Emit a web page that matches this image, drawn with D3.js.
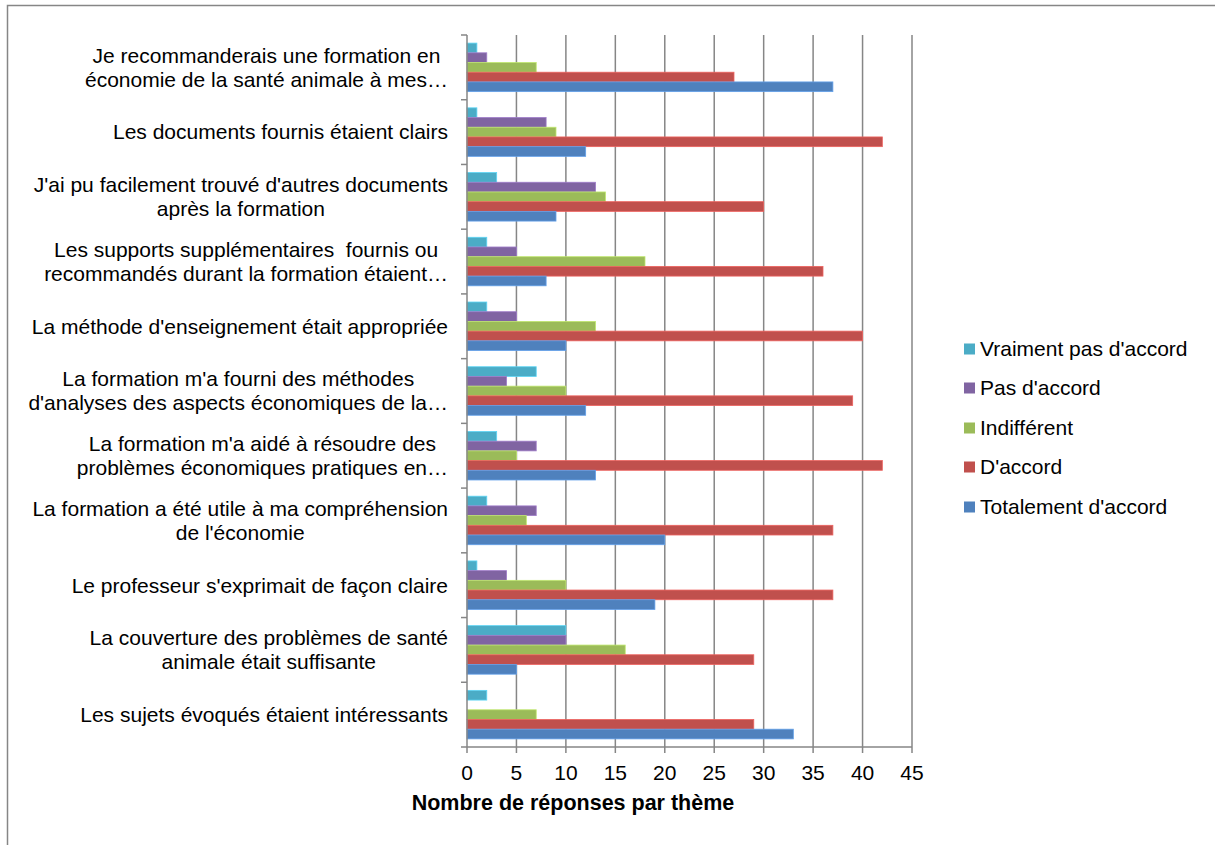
<!DOCTYPE html>
<html>
<head>
<meta charset="utf-8">
<script src="https://cdn.jsdelivr.net/npm/d3@7"></script>
<style>
  body { margin: 0; background: #fff; }
  text { font-family: "Liberation Sans", Arial, sans-serif; fill: #000; }
</style>
</head>
<body>
<div id="chart"></div>
<script>
// categories, top to bottom (each entry = lines of the label)
var categories = [
    ["Je recommanderais une formation en", "économie de la santé animale à mes…"],
    ["Les documents fournis étaient clairs"],
    ["J'ai pu facilement trouvé d'autres documents", "après la formation"],
    ["Les supports supplémentaires  fournis ou", "recommandés durant la formation étaient…"],
    ["La méthode d'enseignement était appropriée"],
    ["La formation m'a fourni des méthodes", "d'analyses des aspects économiques de la…"],
    ["La formation m'a aidé à résoudre des", "problèmes économiques pratiques en…"],
    ["La formation a été utile à ma compréhension", "de l'économie"],
    ["Le professeur s'exprimait de façon claire"],
    ["La couverture des problèmes de santé", "animale était suffisante"],
    ["Les sujets évoqués étaient intéressants"]
];

var seriesNames = ["Vraiment pas d'accord", "Pas d'accord", "Indifférent", "D'accord", "Totalement d'accord"];
var seriesColors = ["#4BACC6", "#8064A2", "#9BBB59", "#C0504D", "#4F81BD"];

// values per series, same order as categories
var vraimentPas = [1, 1, 3, 2, 2, 7, 3, 2, 1, 10, 2];
var pasDaccord  = [2, 8, 13, 5, 5, 4, 7, 7, 4, 10, 0];
var indifferent = [7, 9, 14, 18, 13, 10, 5, 6, 10, 16, 7];
var daccord     = [27, 42, 30, 36, 40, 39, 42, 37, 37, 29, 29];
var totalement  = [37, 12, 9, 8, 10, 12, 13, 20, 19, 5, 33];
var seriesValues = [vraimentPas, pasDaccord, indifferent, daccord, totalement];

var xTicks = [0, 5, 10, 15, 20, 25, 30, 35, 40, 45];

var width = 1215, height = 845;
var fontSize = 21;

var svg = d3.select("#chart").append("svg")
    .attr("width", width)
    .attr("height", height);

// outer chart border (only top and left visible in the frame)
svg.append("rect")
    .attr("x", 7.5).attr("y", 5.5)
    .attr("width", 1220).attr("height", 860)
    .attr("fill", "none")
    .attr("stroke", "#868686")
    .attr("stroke-width", 1.5);

var x = d3.scaleLinear().domain([0, 45]).range([467, 912]);
var y = d3.scaleBand().domain(d3.range(categories.length)).range([35, 747]);
var yInner = d3.scaleBand().domain(d3.range(seriesNames.length))
    .range([0, y.bandwidth()])
    .paddingInner(0)
    .paddingOuter(0.835);

// vertical gridlines
svg.append("g").selectAll("line")
    .data(xTicks.slice(1))
    .enter().append("line")
    .attr("x1", function(d) { return x(d); })
    .attr("x2", function(d) { return x(d); })
    .attr("y1", 35).attr("y2", 747)
    .attr("stroke", "#868686")
    .attr("stroke-width", 1.5);

// bars
var groups = svg.append("g").selectAll("g")
    .data(categories)
    .enter().append("g")
    .attr("transform", function(d, i) { return "translate(0," + y(i) + ")"; });

groups.selectAll("rect")
    .data(function(d, i) {
        return seriesValues.map(function(vals, s) { return { s: s, v: vals[i] }; });
    })
    .enter().append("rect")
    .attr("x", x(0))
    .attr("y", function(d) { return yInner(d.s); })
    .attr("width", function(d) { return x(d.v) - x(0); })
    .attr("height", yInner.bandwidth())
    .attr("fill", function(d) { return seriesColors[d.s]; })
    .attr("stroke", function(d) { return d3.color(seriesColors[d.s]).brighter(0.6); })
    .attr("stroke-width", function(d) { return d.v > 0 ? 0.8 : 0; });

// axis lines
svg.append("line")
    .attr("x1", x(0)).attr("x2", x(0))
    .attr("y1", 35).attr("y2", 747)
    .attr("stroke", "#868686").attr("stroke-width", 1.5);
svg.append("line")
    .attr("x1", x(0)).attr("x2", x(45))
    .attr("y1", 747).attr("y2", 747)
    .attr("stroke", "#868686").attr("stroke-width", 1.5);

// category ticks
svg.append("g").selectAll("line")
    .data(d3.range(categories.length + 1))
    .enter().append("line")
    .attr("x1", x(0) - 6).attr("x2", x(0))
    .attr("y1", function(d) { return 35 + d * y.step(); })
    .attr("y2", function(d) { return 35 + d * y.step(); })
    .attr("stroke", "#868686").attr("stroke-width", 1.5);

// value ticks + labels
svg.append("g").selectAll("line")
    .data(xTicks)
    .enter().append("line")
    .attr("x1", function(d) { return x(d); })
    .attr("x2", function(d) { return x(d); })
    .attr("y1", 747).attr("y2", 753)
    .attr("stroke", "#868686").attr("stroke-width", 1.5);

svg.append("g").selectAll("text")
    .data(xTicks)
    .enter().append("text")
    .attr("x", function(d) { return x(d); })
    .attr("y", 780)
    .attr("text-anchor", "middle")
    .style("font-size", fontSize + "px")
    .text(function(d) { return d; });

svg.append("text")
    .attr("x", 573)
    .attr("y", 810)
    .attr("text-anchor", "middle")
    .style("font-size", "21.5px")
    .style("font-weight", "bold")
    .text("Nombre de réponses par thème");

// category labels: block right-aligned, lines centred within block
var labelRight = 448;
var lineH = 24;
categories.forEach(function(lines, i) {
    var g = svg.append("g");
    var cy = y(i) + y.bandwidth() / 2;
    var texts = lines.map(function(line, k) {
        return g.append("text")
            .attr("y", cy + (k - (lines.length - 1) / 2) * lineH + fontSize * 0.35)
            .attr("text-anchor", "middle")
            .style("font-size", fontSize + "px")
            .style("white-space", "pre")
            .text(line);
    });
    var w = d3.max(texts, function(t) { return t.node().getComputedTextLength(); });
    texts.forEach(function(t) { t.attr("x", labelRight - w / 2); });
});

// legend
var legendY = [349, 388, 428, 467, 507];
var legend = svg.append("g").selectAll("g")
    .data(seriesNames)
    .enter().append("g")
    .attr("transform", function(d, i) { return "translate(964," + legendY[i] + ")"; });
legend.append("rect")
    .attr("x", 0).attr("y", -5.5)
    .attr("width", 11).attr("height", 11)
    .attr("fill", function(d, i) { return seriesColors[i]; });
legend.append("text")
    .attr("x", 16)
    .attr("y", fontSize * 0.35)
    .style("font-size", fontSize + "px")
    .text(function(d) { return d; });
</script>
</body>
</html>
